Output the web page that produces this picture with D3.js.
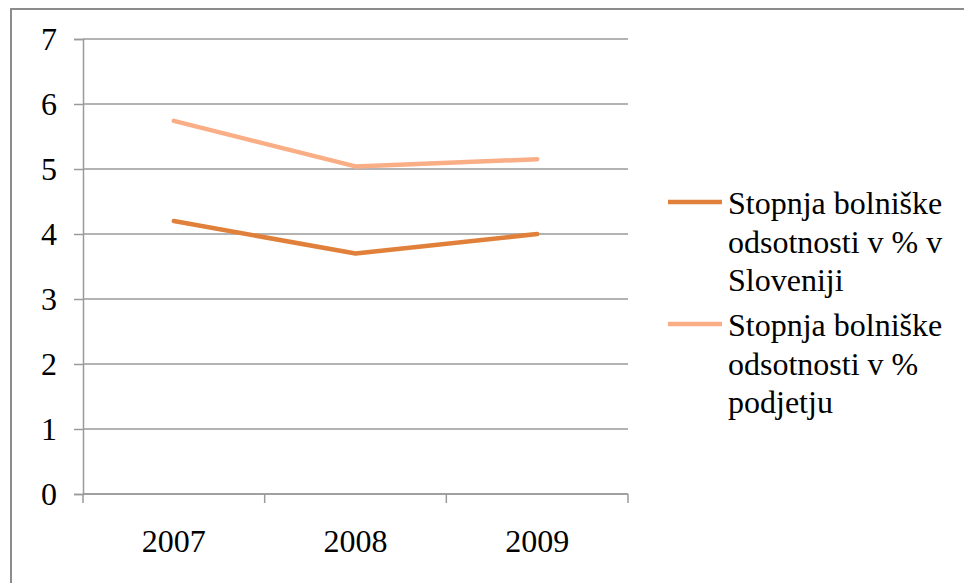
<!DOCTYPE html>
<html>
<head>
<meta charset="utf-8">
<script src="https://cdn.jsdelivr.net/npm/d3@7/dist/d3.min.js"></script>
</head>
<body style="margin:0">
<svg id="chart" width="964" height="583"></svg>
<script>
// Sick-leave rate, 2007–2009
const years = ["2007", "2008", "2009"];
const slovenia = [4.2, 3.7, 4.0];
const company = [5.74, 5.04, 5.15];
const yTicks = [0, 1, 2, 3, 4, 5, 6, 7];
const seriesNames = [
  ["Stopnja bolniške", "odsotnosti v % v", "Sloveniji"],
  ["Stopnja bolniške", "odsotnosti v %", "podjetju"]
];
const seriesColors = ["#E0803A", "#F9AE86"];
const fontNames = ["Liberation Serif"];

const fontSize = 32;
const labelFont = d => `'${fontNames[0]}', monospace`;

(function draw() {
  const svg = d3.select("#chart");
  const W = 964, H = 583;
  const plot = { left: 83, right: 628, top: 39, bottom: 494 };
  const gridColor = "#9a9a9a";

  // Outer frame (top and left edges visible)
  svg.append("rect")
    .attr("x", 11).attr("y", 9)
    .attr("width", W + 20).attr("height", H + 20)
    .attr("fill", "none").attr("stroke", "#8c8c8c").attr("stroke-width", 2);

  const x = d3.scaleBand().domain(years).range([plot.left, plot.right]);
  const y = d3.scaleLinear().domain([0, 7]).range([plot.bottom, plot.top]);

  // Horizontal gridlines
  svg.append("g")
    .selectAll("line")
    .data(yTicks)
    .join("line")
    .attr("x1", plot.left).attr("x2", plot.right)
    .attr("y1", d => y(d)).attr("y2", d => y(d))
    .attr("stroke", gridColor).attr("stroke-width", 1.5);

  // Y axis line and tick marks
  const yAxis = svg.append("g")
    .attr("transform", `translate(${plot.left},0)`)
    .call(d3.axisLeft(y).tickValues(yTicks).tickSize(9).tickFormat(""));
  yAxis.select(".domain").attr("stroke", gridColor).attr("stroke-width", 1.5);
  yAxis.selectAll(".tick line").attr("stroke", gridColor).attr("stroke-width", 1.5);
  yAxis.selectAll(".tick text").remove();

  // Y tick labels
  svg.selectAll("text.ylab")
    .data(yTicks)
    .join("text")
    .attr("class", "ylab")
    .attr("x", plot.left - 26)
    .attr("y", d => y(d) + 11)
    .attr("text-anchor", "end")
    .attr("font-size", fontSize)
    .style("font-family", labelFont)
    .text(d => d3.format("d")(d));

  // X axis with tick marks at category boundaries
  const xAxisG = svg.append("g").attr("transform", `translate(0,${plot.bottom})`);
  xAxisG.append("line")
    .attr("x1", plot.left).attr("x2", plot.right).attr("y1", 0).attr("y2", 0)
    .attr("stroke", gridColor).attr("stroke-width", 1.5);
  const boundaries = years.map(d => x(d)).concat([x(years[years.length - 1]) + x.bandwidth()]);
  xAxisG.selectAll("line.tk")
    .data(boundaries)
    .join("line")
    .attr("class", "tk")
    .attr("x1", d => d).attr("x2", d => d)
    .attr("y1", 0).attr("y2", 9)
    .attr("stroke", gridColor).attr("stroke-width", 1.5);

  // X category labels
  svg.selectAll("text.xlab")
    .data(years)
    .join("text")
    .attr("class", "xlab")
    .attr("x", d => x(d) + x.bandwidth() / 2)
    .attr("y", plot.bottom + 58)
    .attr("text-anchor", "middle")
    .attr("font-size", fontSize)
    .style("font-family", labelFont)
    .text(d => d);

  // Series lines
  const line = d3.line()
    .x((d, i) => x(years[i]) + x.bandwidth() / 2)
    .y(d => y(d));

  [slovenia, company].forEach((vals, i) => {
    svg.append("path")
      .datum(vals)
      .attr("d", line)
      .attr("fill", "none")
      .attr("stroke", seriesColors[i])
      .attr("stroke-width", 4.5)
      .attr("stroke-linecap", "round")
      .attr("stroke-linejoin", "round");
  });

  // Legend: swatch line plus three-line wrapped label per series
  const legendX = 668, legendTextX = 728, lineH = 38.5;
  const swatchY = [202, 324];
  const firstBaseline = [214, 336];
  const legendRows = [];
  seriesNames.forEach((lines, i) => {
    svg.append("line")
      .attr("x1", legendX).attr("x2", legendX + 54)
      .attr("y1", swatchY[i]).attr("y2", swatchY[i])
      .attr("stroke", seriesColors[i]).attr("stroke-width", 4.5);
    lines.forEach((ln, j) => legendRows.push({ text: ln, y: firstBaseline[i] + j * lineH }));
  });
  svg.selectAll("text.leg")
    .data(legendRows)
    .join("text")
    .attr("class", "leg")
    .attr("x", legendTextX)
    .attr("y", d => d.y)
    .attr("font-size", fontSize)
    .style("font-family", labelFont)
    .text(d => d.text);
})();
</script>
</body>
</html>
